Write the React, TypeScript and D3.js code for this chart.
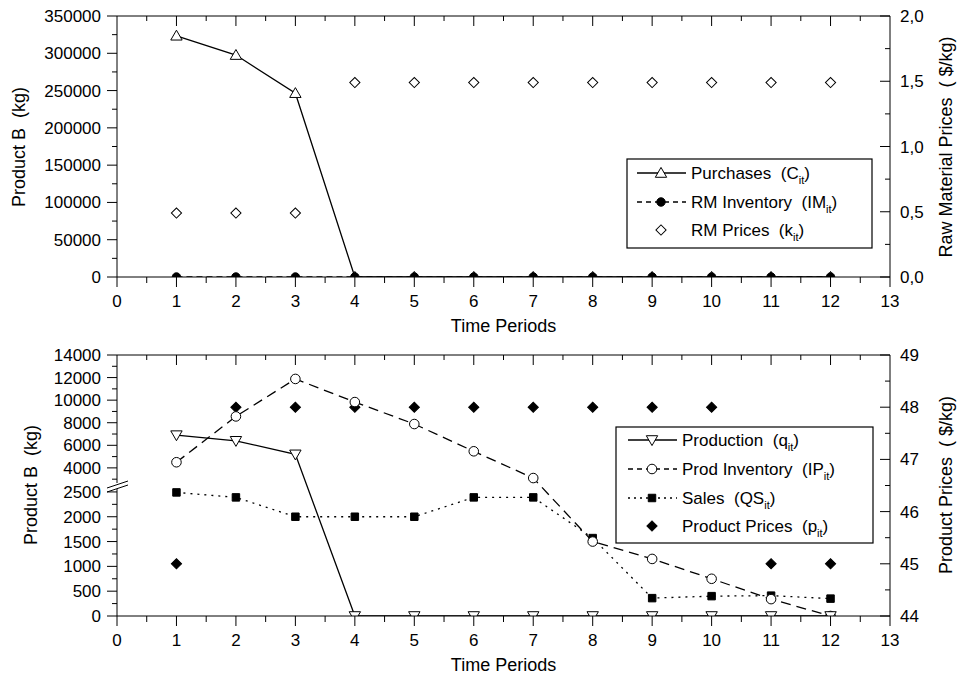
import * as d3 from "d3";

// ---- data ----
const periods = [1, 2, 3, 4, 5, 6, 7, 8, 9, 10, 11, 12];

// top panel
const purchases = [323500, 297600, 246500, 0, 0, 0, 0, 0, 0, 0, 0, 0];
const rmInventory = [0, 0, 0, 0, 0, 0, 0, 0, 0, 0, 0, 0];
const rmPrices = [0.49, 0.49, 0.49, 1.49, 1.49, 1.49, 1.49, 1.49, 1.49, 1.49, 1.49, 1.49];

// bottom panel
const production = [6900, 6400, 5200, 0, 0, 0, 0, 0, 0, 0, 0, 0];
const prodInventory = [4500, 8560, 11880, 9830, 7885, 5470, 3100, 1500, 1150, 750, 340, 0];
const sales = [2490, 2390, 2000, 2000, 2000, 2390, 2390, 1570, 360, 400, 410, 350];
const productPrices = [45, 48, 48, 48, 48, 48, 48, 48, 48, 48, 45, 45];

const xTicks = d3.range(0, 14);
const topLeftTicks = d3.range(0, 350001, 50000);
const topRightTicks = [0, 0.5, 1, 1.5, 2];
const botLowTicks = [0, 500, 1000, 1500, 2000, 2500];
const botHighTicks = [4000, 6000, 8000, 10000, 12000, 14000];
const botRightTicks = [44, 45, 46, 47, 48, 49];

const FONT = '"Liberation Sans", Arial, Helvetica, sans-serif';
const X0 = 117, X1 = 890;

const x = d3.scaleLinear().domain([0, 13]).range([X0, X1]);

function sym(type: d3.SymbolType, size: number) {
  return d3.symbol().type(type).size(size)() as string;
}
const triPath = sym(d3.symbolTriangle, 56);
const circPath = sym(d3.symbolCircle, 72);
const sqPath = sym(d3.symbolSquare, 56);
const diaPath = sym(d3.symbolSquare, 52);

function Marker({ kind, cx, cy }: { kind: string; cx: number; cy: number }) {
  const st = { stroke: "#000", strokeWidth: 1 };
  if (kind === "triUp")
    return <path d={triPath} transform={`translate(${cx},${cy + 1})`} fill="#fff" {...st} />;
  if (kind === "triDown")
    return <path d={triPath} transform={`translate(${cx},${cy - 1}) rotate(180)`} fill="#fff" {...st} />;
  if (kind === "dotFill")
    return <path d={sym(d3.symbolCircle, 56)} transform={`translate(${cx},${cy})`} fill="#000" {...st} />;
  if (kind === "circOpen")
    return <path d={circPath} transform={`translate(${cx},${cy})`} fill="#fff" {...st} />;
  if (kind === "sqFill")
    return <path d={sqPath} transform={`translate(${cx},${cy})`} fill="#000" {...st} />;
  if (kind === "diaOpen")
    return <path d={diaPath} transform={`translate(${cx},${cy}) rotate(45)`} fill="#fff" {...st} />;
  return <path d={diaPath} transform={`translate(${cx},${cy}) rotate(45)`} fill="#000" {...st} />;
}

function Series({ vals, y, kind, dash, line = true }: any) {
  const gen = d3.line<number>().x((_, i) => x(periods[i])).y((d) => y(d));
  return (
    <g>
      {line && <path d={gen(vals) as string} fill="none" stroke="#000" strokeWidth={1.3} strokeDasharray={dash} />}
      {vals.map((v: number, i: number) => (
        <Marker key={i} kind={kind} cx={x(periods[i])} cy={y(v)} />
      ))}
    </g>
  );
}

function XAxis({ yb, yt, labelY, titleY }: any) {
  return (
    <g>
      <line x1={X0} x2={X1} y1={yb} y2={yb} stroke="#000" />
      <line x1={X0} x2={X1} y1={yt} y2={yt} stroke="#000" />
      {xTicks.map((t) => (
        <g key={t}>
          <line x1={x(t)} x2={x(t)} y1={yb} y2={yb + 10} stroke="#000" />
          {t > 0 && t < 13 && <line x1={x(t)} x2={x(t)} y1={yt} y2={yt + 10} stroke="#000" />}
          <text x={x(t)} y={labelY} textAnchor="middle" fontSize={17}>{t}</text>
        </g>
      ))}
      {xTicks.slice(0, 13).map((t) => (
        <g key={"m" + t}>
          <line x1={x(t + 0.5)} x2={x(t + 0.5)} y1={yb} y2={yb + 6} stroke="#000" />
          <line x1={x(t + 0.5)} x2={x(t + 0.5)} y1={yt} y2={yt + 5} stroke="#000" />
        </g>
      ))}
      <text x={(X0 + X1) / 2} y={titleY} textAnchor="middle" fontSize={18}>Time Periods</text>
    </g>
  );
}

function LegendRow({ y, x0, x1, mx, tx, kind, dash, line = true, label, sub, tail }: any) {
  return (
    <g>
      {line && <line x1={x0} x2={x1} y1={y} y2={y} stroke="#000" strokeWidth={1.3} strokeDasharray={dash} />}
      <Marker kind={kind} cx={mx} cy={y} />
      <text x={tx} y={y + 6} fontSize={17} style={{ whiteSpace: "pre" }}>
        {label}
        <tspan fontSize={11} dy={5}>{sub}</tspan>
        <tspan dy={-5}>{tail}</tspan>
      </text>
    </g>
  );
}

export default function App() {
  // top panel scales
  const yT = d3.scaleLinear().domain([0, 350000]).range([277, 16]);
  const yTR = d3.scaleLinear().domain([0, 2]).range([277, 16]);
  // bottom panel (broken left axis)
  const yLow = d3.scaleLinear().domain([0, 2700]).range([616, 482]);
  const yHigh = d3.scaleLinear().domain([2750, 14000]).range([482, 355]);
  const yB = (v: number) => (v <= 2700 ? yLow(v) : yHigh(v));
  const yBR = d3.scaleLinear().domain([44, 49]).range([616, 355]);

  return (
    <svg width={964} height={679} style={{ position: "absolute", left: 0, top: 0, background: "#fff" }} fontFamily={FONT}>
      <defs>
        <clipPath id="clipTop"><rect x={X0} y={10} width={X1 - X0} height={267} /></clipPath>
        <clipPath id="clipBot"><rect x={X0} y={349} width={X1 - X0} height={267} /></clipPath>
      </defs>
      {/* ===== TOP PANEL ===== */}
      <g clipPath="url(#clipTop)">
        <Series vals={rmPrices} y={yTR} kind="diaOpen" line={false} />
        <Series vals={purchases} y={yT} kind="triUp" />
        <Series vals={rmInventory} y={yT} kind="dotFill" dash="6,4" />
      </g>
      <XAxis yb={277} yt={16} labelY={307} titleY={332} />
      <line x1={X0} x2={X0} y1={16} y2={277} stroke="#000" />
      {topLeftTicks.map((t) => (
        <g key={t}>
          <line x1={X0 - 10} x2={X0} y1={yT(t)} y2={yT(t)} stroke="#000" />
          <text x={X0 - 16} y={yT(t) + 6} textAnchor="end" fontSize={17}>{t}</text>
        </g>
      ))}
      {topLeftTicks.slice(0, -1).map((t) => (
        <line key={"m" + t} x1={X0 - 5} x2={X0} y1={yT(t + 25000)} y2={yT(t + 25000)} stroke="#000" />
      ))}
      <line x1={X1} x2={X1} y1={16} y2={277} stroke="#000" />
      {topRightTicks.map((t) => (
        <g key={t}>
          <line x1={X1 - 10} x2={X1} y1={yTR(t)} y2={yTR(t)} stroke="#000" />
          <text x={X1 + 10} y={yTR(t) + 6} fontSize={17}>{d3.format(".1f")(t).replace(".", ",")}</text>
        </g>
      ))}
      {topRightTicks.slice(0, -1).map((t) => (
        <line key={"m" + t} x1={X1 - 5} x2={X1} y1={yTR(t + 0.25)} y2={yTR(t + 0.25)} stroke="#000" />
      ))}
      <text transform={`translate(25,147) rotate(-90)`} textAnchor="middle" fontSize={18} style={{ whiteSpace: "pre" }}>Product B  (kg)</text>
      <text transform={`translate(952,147) rotate(-90)`} textAnchor="middle" fontSize={18} style={{ whiteSpace: "pre" }}>Raw Material Prices  ( $/kg)</text>

      <rect x={627} y={159} width={245} height={89} fill="#fff" stroke="#000" strokeWidth={1.2} />
      <LegendRow y={173} x0={637} x1={686} mx={661} tx={691} kind="triUp" label="Purchases  (C" sub="it" tail=")" />
      <LegendRow y={202} x0={637} x1={686} mx={661} tx={691} kind="dotFill" dash="5,4" label="RM Inventory  (IM" sub="it" tail=")" />
      <LegendRow y={230} x0={637} x1={686} mx={661} tx={691} kind="diaOpen" line={false} label="RM Prices  (k" sub="it" tail=")" />

      {/* ===== BOTTOM PANEL ===== */}
      <g clipPath="url(#clipBot)">
        <Series vals={productPrices} y={yBR} kind="diaFill" line={false} />
        <Series vals={sales} y={yB} kind="sqFill" dash="2,5" />
        <Series vals={prodInventory} y={yB} kind="circOpen" dash="10,6" />
        <Series vals={production} y={yB} kind="triDown" />
      </g>
      <XAxis yb={616} yt={355} labelY={646} titleY={671} />
      <line x1={X0} x2={X0} y1={355} y2={483} stroke="#000" />
      <line x1={X0} x2={X0} y1={489} y2={616} stroke="#000" />
      <line x1={107} x2={128} y1={488} y2={481} stroke="#000" />
      <line x1={107} x2={128} y1={492} y2={485} stroke="#000" />
      {botLowTicks.map((t) => (
        <g key={t}>
          <line x1={X0 - 10} x2={X0} y1={yLow(t)} y2={yLow(t)} stroke="#000" />
          <text x={X0 - 16} y={yLow(t) + 6} textAnchor="end" fontSize={17}>{t}</text>
        </g>
      ))}
      {botLowTicks.slice(0, -1).map((t) => (
        <line key={"m" + t} x1={X0 - 5} x2={X0} y1={yLow(t + 250)} y2={yLow(t + 250)} stroke="#000" />
      ))}
      {botHighTicks.map((t) => (
        <g key={t}>
          <line x1={X0 - 10} x2={X0} y1={yHigh(t)} y2={yHigh(t)} stroke="#000" />
          <text x={X0 - 16} y={yHigh(t) + 6} textAnchor="end" fontSize={17}>{t}</text>
        </g>
      ))}
      {botHighTicks.slice(0, -1).map((t) => (
        <line key={"m" + t} x1={X0 - 5} x2={X0} y1={yHigh(t + 1000)} y2={yHigh(t + 1000)} stroke="#000" />
      ))}
      <line x1={X0 - 5} x2={X0} y1={yHigh(3000)} y2={yHigh(3000)} stroke="#000" />
      <line x1={X1} x2={X1} y1={355} y2={616} stroke="#000" />
      {botRightTicks.map((t) => (
        <g key={t}>
          <line x1={X1 - 10} x2={X1} y1={yBR(t)} y2={yBR(t)} stroke="#000" />
          <text x={X1 + 10} y={yBR(t) + 6} fontSize={17}>{t}</text>
        </g>
      ))}
      {botRightTicks.slice(0, -1).map((t) => (
        <line key={"m" + t} x1={X1 - 5} x2={X1} y1={yBR(t + 0.5)} y2={yBR(t + 0.5)} stroke="#000" />
      ))}
      <text transform={`translate(37,485) rotate(-90)`} textAnchor="middle" fontSize={18} style={{ whiteSpace: "pre" }}>Product B  (kg)</text>
      <text transform={`translate(952,485) rotate(-90)`} textAnchor="middle" fontSize={18} style={{ whiteSpace: "pre" }}>Product Prices  ( $/kg)</text>

      <rect x={616} y={427} width={257} height={116} fill="#fff" stroke="#000" strokeWidth={1.2} />
      <LegendRow y={440} x0={628} x1={677} mx={652} tx={682} kind="triDown" label="Production  (q" sub="it" tail=")" />
      <LegendRow y={469} x0={628} x1={677} mx={652} tx={682} kind="circOpen" dash="5,4" label="Prod Inventory  (IP" sub="it" tail=")" />
      <LegendRow y={498} x0={628} x1={677} mx={652} tx={682} kind="sqFill" dash="2,4" label="Sales  (QS" sub="it" tail=")" />
      <LegendRow y={526} x0={628} x1={677} mx={652} tx={682} kind="diaFill" line={false} label="Product Prices  (p" sub="it" tail=")" />
    </svg>
  );
}
